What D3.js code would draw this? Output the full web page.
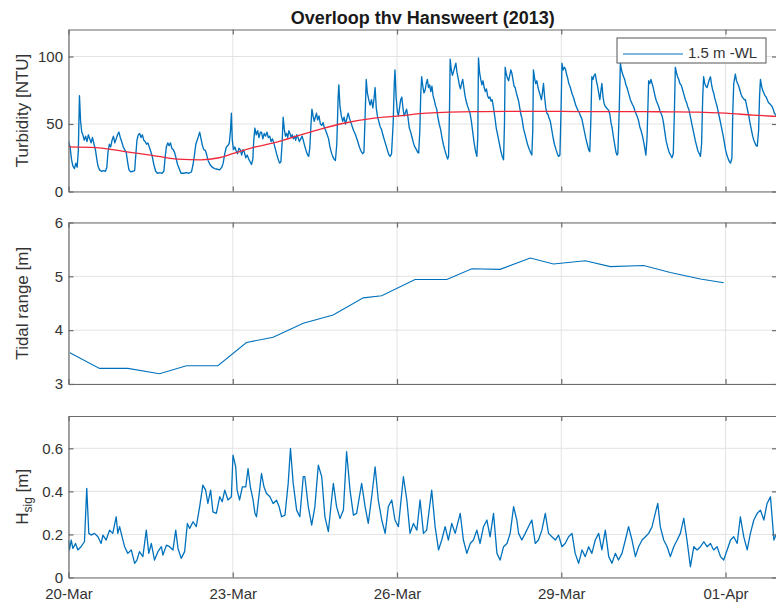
<!DOCTYPE html>
<html>
<head>
<meta charset="utf-8">
<script src="https://cdn.jsdelivr.net/npm/d3@7"></script>
<style>
  body { margin: 0; background: #fff; }
  svg text { font-family: "Liberation Sans", Arial, Helvetica, sans-serif; }
</style>
</head>
<body>
<svg id="chart" width="776" height="602"></svg>
<script>
// Time axis: hours after 20-Mar-2013 00:00 (UTC)
const startDate = Date.UTC(2013, 2, 20);
const spanDays = 12.94;
const dateTicks = ["2013-03-20", "2013-03-23", "2013-03-26", "2013-03-29", "2013-04-01"];

const titleText = "Overloop thv Hansweert (2013)";
const legendLabel = "1.5 m -WL";

const turbidityTicks = [0, 50, 100];
const tidalTicks = [3, 4, 5, 6];
const hsigTicks = [0, 0.2, 0.4, 0.6];

// Turbidity at 1.5 m below water level: [hour, NTU]
const turbidity = [
  [0,37],[0.7,33],[1.3,24],[1.9,19],[2.6,17],[3.2,21],[3.8,18],[4.3,30],[4.8,71],[5.3,52],[5.8,44],[6.3,42],[6.9,38],[7.5,41],[8.1,37],[8.7,42],[9.3,39],[9.9,36],[10.5,40],[11.2,35],[11.8,31],[12.4,24],[12.9,19],[13.6,16],[14.4,15],[15.3,15.5],[16.2,15],[16.8,18],
  [17.3,29],[17.9,35],[18.5,33],[19.1,38],[19.7,41],[20.3,36],[20.9,39],[21.5,42],[22.1,44],[22.7,40],[23.3,37],[24,33],[24.6,31],[25.3,29],[25.9,22],[26.5,16],[27.3,14.5],[28.2,15],[29,15.5],
  [29.5,27],[30,38],[30.6,42],[31.2,43],[31.8,40],[32.4,42],[33,38],[33.6,37],[34.2,35],[34.8,36],[35.4,33],[36,30],[36.7,26],[37.4,20],[38.2,15],[39,13.5],[40,14],[41,13.5],[41.8,15],
  [42.4,26],[42.9,33],[43.5,36],[44.1,34],[44.7,36],[45.3,32],[45.9,31],[46.5,29],[47.1,25],[47.8,20],[48.5,17],[49.3,13.5],[50.5,13.5],[51.7,14],[52.8,13.5],[53.9,14.5],
  [54.6,20],[55.2,27],[55.8,35],[56.4,38],[57,41],[57.5,44],[58.1,39],[58.7,34],[59.3,31],[60,30.5],[60.6,27],[61.2,23],[62,20],[63,18],[64,17],[65.2,16.5],[66.3,16],[67.2,18],[67.8,21],
  [68.5,28],[69.2,33],[69.9,34],[70.5,36],[71,45],[71.4,58],[71.8,38],[72.3,31],[72.9,33],[73.5,30],[74.1,28],[74.7,32],[75.3,31],[75.9,27],[76.5,31],[77.1,29],[77.7,25],[78.3,27],[79,24],[79.6,22],[80.2,20],[80.8,24],
  [81.2,38],[81.7,47],[82.3,42],[82.9,45],[83.5,40],[84.1,44],[84.6,44],[85.2,39],[85.8,43],[86.4,41],[87,44],[87.6,40],[88.2,41],[88.8,37],[89.4,39],[90,36],[90.6,32],[91.2,28],[91.9,24],[92.5,21],[93.1,22],
  [93.6,35],[94.1,55],[94.6,46],[95.1,41],[95.6,43],[96.1,40],[96.6,45],[97.1,43],[97.6,40],[98.1,42],[98.6,39],[99.1,41],[99.6,38],[100.1,42],[100.6,40],[101.2,37],[101.8,39],[102.4,41],[102.9,38],[103.5,34],[104.2,30],[104.8,27],[105.3,26],
  [105.8,33],[106.3,50],[106.7,61],[107.2,56],[107.7,52],[108.2,55],[108.7,58],[109.2,53],[109.8,56],[110.4,50],[111,49],[111.6,51],[112.2,47],[112.8,45],[113.4,42],[114,39],[114.6,33],[115.2,29],[115.8,26],[116.4,24],[117,23],
  [117.6,35],[118.2,70],[118.5,79],[119,63],[119.6,56],[120.2,52],[120.8,55],[121.4,50],[122,54],[122.6,58],[123.2,54],[123.8,51],[124.4,48],[125,45],[125.6,43],[126.2,40],[126.8,37],[127.5,33],[128.2,30],[128.9,28],[129.5,29],
  [130,55],[130.5,83],[131,73],[131.6,68],[132.2,64],[132.8,68],[133.4,62],[134,70],[134.4,77],[134.9,62],[135.4,56],[136,52],[136.6,48],[137.2,46],[137.8,42],[138.5,38],[139.2,34],[139.9,30],[140.5,27],[141,26],[141.6,28],
  [142.3,50],[142.8,80],[143.1,90],[143.6,70],[144.1,60],[144.6,56],[145.1,62],[145.6,68],[146.1,70],[146.6,62],[147.1,56],[147.6,58],[148.2,61],[148.8,55],[149.4,47],[150,44],[150.6,40],[151.2,36],[151.8,33],[152.5,31],[153.1,29],[153.5,28.5],
  [154,45],[154.4,72],[154.8,85],[155.3,78],[155.8,73],[156.3,75],[156.8,80],[157.3,83],[157.8,77],[158.3,79],[158.8,74],[159.3,78],[159.8,71],[160.3,68],[160.8,64],[161.4,61],[161.9,55],[162.5,50],[163.1,46],[163.7,40],[164.3,35],[164.9,31],[165.6,27],[166.2,24],[166.6,26],
  [167,60],[167.3,98],[167.8,90],[168.3,86],[168.8,89],[169.3,92],[169.8,95],[170.3,88],[170.8,84],[171.3,79],[171.8,76],[172.3,80],[172.8,83],[173.3,77],[173.8,71],[174.3,67],[174.8,64],[175.4,61],[176,58],[176.6,52],[177.2,44],[177.8,36],[178.4,30],[179,26],
  [179.4,40],[179.7,99],[180.2,88],[180.7,83],[181.2,79],[181.7,82],[182.2,77],[182.7,74],[183.2,76],[183.7,71],[184.2,69],[184.7,70],[185.2,67],[185.7,68],[186.3,62],[186.9,55],[187.5,47],[188.1,42],[188.8,36],[189.5,30],[190.1,26],[190.7,23.5],
  [191.1,50],[191.4,92],[191.9,87],[192.4,84],[192.9,82],[193.4,86],[193.9,90],[194.3,88],[194.8,83],[195.3,78],[195.8,77],[196.3,73],[196.8,70],[197.3,67],[197.8,62],[198.3,57],[198.8,54],[199.4,47],[200,43],[200.6,39],[201.2,35],[201.8,32],[202.5,29],[203.1,27],
  [203.5,45],[203.8,90],[204.3,84],[204.8,80],[205.3,82],[205.8,77],[206.3,74],[206.8,71],[207.3,68],[207.8,74],[208.2,80],[208.7,70],[209.2,62],[209.7,58],[210.2,57],[210.7,54],[211.2,52],[211.8,46],[212.4,40],[213,35],[213.7,31],[214.3,28],[214.8,26],[215.4,27],
  [215.9,60],[216.3,95],[216.8,90],[217.3,92],[217.8,91],[218.3,87],[218.8,84],[219.3,80],[219.8,78],[220.3,75],[220.8,72],[221.3,70],[221.8,67],[222.3,64],[222.8,62],[223.3,60],[223.8,59],[224.4,56],[225,54],[225.6,49],[226.2,44],[226.8,39],[227.4,35],[228,31],[228.5,29.5],
  [229,55],[229.4,85],[229.9,83],[230.4,86],[230.9,87],[231.4,82],[231.9,78],[232.4,73],[232.9,68],[233.4,75],[233.8,80],[234.3,70],[234.8,65],[235.3,63],[235.8,62],[236.3,61],[236.8,60],[237.3,57],[237.8,51],[238.3,47],[238.9,40],[239.5,34],[240,29],[240.4,27],[240.8,28],
  [241.4,60],[241.9,95],[242.4,90],[242.9,87],[243.3,85],[243.8,83],[244.3,79],[244.8,77],[245.3,74],[245.8,71],[246.3,68],[246.8,66],[247.3,64],[247.7,63],[248.2,60],[248.7,58],[249.2,56],[249.8,53],[250.4,48],[251,45],[251.6,41],[252.2,36],[252.7,31],[253.1,27],
  [253.6,40],[254.3,82],[254.8,80],[255.3,83],[255.8,80],[256.3,77],[256.8,73],[257.2,70],[257.7,67],[258.2,65],[258.7,63],[259.2,60],[259.7,58],[260.2,56],[260.8,51],[261.4,44],[261.9,38],[262.6,33],[263.3,29],[263.9,27],[264.5,25],[265.1,28],
  [265.6,60],[266,92],[266.5,88],[267,85],[267.5,83],[268,80],[268.5,79],[268.9,77],[269.4,74],[269.9,71],[270.4,68],[270.9,66],[271.4,63],[271.9,61],[272.4,57],[273,52],[273.6,47],[274.1,43],[274.7,38],[275.3,34],[275.9,30],[276.5,28],[277,26],
  [277.5,35],[278,70],[278.4,85],[278.9,80],[279.4,78],[279.9,77],[280.4,80],[280.9,83],[281.4,85],[281.9,79],[282.4,75],[282.8,73],[283.3,69],[283.8,66],[284.3,63],[284.8,59],[285.3,55],[285.8,51],[286.4,46],[287,41],[287.5,36],[288,31],[288.6,27],[289.2,24],[289.7,22],[290.2,21],[290.8,25],
  [291.2,60],[291.6,80],[292,84],[292.3,87],[292.8,82],[293.3,80],[293.8,78],[294.3,75],[294.8,72],[295.3,70],[295.8,69],[296.3,68],[296.7,68],[297.2,64],[297.7,60],[298.2,56],[298.7,51],[299.3,46],[299.9,41],[300.4,38],[300.9,36],[301.4,34],[301.9,33.5],
  [302.5,45],[302.9,70],[303.3,83],[303.8,78],[304.3,75],[304.8,73],[305.3,71],[305.8,70],[306.3,68],[306.8,66],[307.4,65],[307.9,64],[308.4,63],[308.9,61],[309.4,58],[310.3,56]
];

// Smoothed turbidity (red trend line): [hour, NTU]
const turbidityTrend = [
  [0,33],[12,32.5],[24,29.8],[36,27],[48,24],[58,23.5],[66,25],[72,28],[82,33],[90,36],[104,43],[119,50],
  [134,54.4],[144,55.8],[157,58],[178,59.2],[192,59.3],[204,59.4],[216,59.3],[228,59.2],[240,59.2],
  [252,59.1],[264,59],[276,58.8],[288,58],[300,56.6],[310.5,55.6]
];

// Tidal range per tide: [hour, m]
const tidalRange = [
  [0.6,3.58],[13.6,3.29],[26,3.29],[39.9,3.19],[51.7,3.34],[65.5,3.34],[78,3.77],[89.7,3.87],
  [102.9,4.13],[116,4.28],[129.2,4.6],[137.3,4.64],[151.9,4.94],[165.8,4.94],[176.8,5.14],[189.2,5.13],
  [202.4,5.34],[212.6,5.23],[226.5,5.29],[237.5,5.18],[252.1,5.2],[263.8,5.07],[277,4.95],[287.2,4.88]
];

// Significant wave height: [hour, m]
const hsig = [
  [0,0.174],[0.4,0.128],[1.2,0.174],[1.9,0.135],[3.1,0.158],[4.1,0.128],[5.5,0.143],[7,0.166],[8,0.414],[8.9,0.205],[9.9,0.197],[11.4,0.205],[12.9,0.189],[14.3,0.158],[15.1,0.197],[16.5,0.174],[18,0.22],[19.4,0.205],[20.9,0.282],[21.6,0.205],[22.4,0.236],[23.5,0.189],
  [24.6,0.143],[26,0.112],[27.5,0.128],[29,0.066],[30,0.081],[31.1,0.12],[32.6,0.097],[34.1,0.22],[35.2,0.112],[36.3,0.158],[37.7,0.081],[39.2,0.12],[40.7,0.143],[41.4,0.104],[42.9,0.15],[44.3,0.143],[45.8,0.128],[47,0.22],
  [48,0.135],[49.4,0.089],[50.9,0.12],[52.1,0.251],[53.1,0.228],[54.6,0.259],[56,0.236],[57.5,0.329],[58.9,0.429],[60.1,0.406],[61.1,0.344],[62.3,0.406],[63.3,0.305],[64.8,0.298],[66.3,0.375],[67.4,0.352],[68.5,0.406],[69.9,0.36],[71.4,0.375],
  [72.1,0.568],[73.3,0.514],[73.9,0.406],[75,0.36],[76.2,0.421],[77.7,0.421],[78.7,0.506],[79.7,0.421],[80.9,0.36],[81.7,0.3],[82.4,0.282],[83.5,0.38],[84.6,0.483],[85.7,0.42],[86.8,0.39],[88.3,0.375],[89.7,0.344],[91.2,0.359],[92.3,0.33],[93.4,0.282],[94.9,0.29],
  [96.3,0.437],[97.3,0.599],[98.5,0.437],[100,0.313],[101.4,0.282],[102.9,0.468],[103.6,0.468],[105.1,0.329],[106.6,0.243],[108,0.329],[109.5,0.522],[111,0.468],[112.4,0.282],[113.9,0.213],[115.3,0.359],[116.1,0.437],[117.5,0.329],[119,0.274],[120.5,0.313],
  [121.9,0.584],[123.4,0.406],[124.9,0.29],[126.3,0.298],[128.5,0.437],[130,0.329],[131.4,0.251],[132.9,0.375],[134.4,0.514],[135.8,0.359],[137.3,0.267],[138.8,0.205],[140.2,0.329],[141.7,0.36],[143.1,0.267],[144.6,0.236],
  [146.8,0.468],[148.3,0.36],[149.7,0.205],[151.2,0.251],[152.7,0.22],[154.1,0.36],[155.6,0.205],[157,0.22],[159.2,0.406],[160.7,0.236],[162.2,0.128],[163.6,0.174],[165.1,0.236],[166.5,0.174],[168,0.251],[169.5,0.205],
  [171.7,0.298],[173.1,0.174],[174.6,0.112],[176.1,0.158],[177.5,0.174],[179,0.22],[180.4,0.158],[181.9,0.236],[183.4,0.267],[184.8,0.189],[186.3,0.298],[187.8,0.112],[189.2,0.081],[190.7,0.143],[192.2,0.158],[193.6,0.205],
  [195.1,0.329],[196.5,0.267],[197.3,0.205],[198.7,0.174],[200.2,0.205],[201.6,0.236],[203.1,0.267],[204.6,0.158],[206,0.174],[207.5,0.22],[209,0.298],[210.4,0.205],[211.9,0.189],[213.4,0.174],[214.8,0.197],[216.3,0.143],
  [217.7,0.158],[219.2,0.189],[220.7,0.205],[222.1,0.112],[223.6,0.066],[225.1,0.128],[226.5,0.097],[228,0.143],[229.4,0.112],[230.9,0.174],[232.4,0.205],[233.8,0.128],[235.3,0.22],[236.8,0.097],[238.2,0.066],[239.7,0.112],
  [241.1,0.081],[242.6,0.112],[244.1,0.174],[245.5,0.236],[247,0.174],[248.5,0.097],[249.9,0.143],[251.4,0.174],[252.9,0.189],[254.3,0.205],[255.8,0.236],[257.2,0.298],[258.3,0.344],[259.4,0.236],[260.9,0.174],[262.4,0.143],
  [263.8,0.097],[265.3,0.143],[266.8,0.174],[268.2,0.205],[269.7,0.275],[271.1,0.174],[272.6,0.05],[274.1,0.143],[275.5,0.128],[277,0.143],[278.5,0.166],[279.9,0.143],[281.4,0.158],[282.8,0.128],[284.3,0.143],[285.8,0.097],
  [287.2,0.081],[288.7,0.128],[290.2,0.174],[291.6,0.189],[293.1,0.158],[294.5,0.282],[296,0.189],[297.5,0.128],[298.9,0.205],[300.4,0.267],[301.9,0.298],[303.3,0.313],[304.8,0.267],[306.2,0.344],[307.7,0.375],[309.2,0.174],[310.4,0.205]
];

const blue = "#0072BD";
const red = "#F0283A";
const axisColor = "#6b6b6b";
const gridColor = "#e3e3e3";
const textColor = "#333333";
const fontFamily = '"Liberation Sans", Arial, Helvetica, sans-serif';

const svg = d3.select("#chart");
const left = 68.5, right = 777;
const hourToDate = h => new Date(startDate + h * 3600e3);
const tickDates = dateTicks.map(s => new Date(s + "T00:00:00Z"));

const x = d3.scaleUtc()
  .domain([new Date(startDate), new Date(startDate + spanDays * 864e5)])
  .range([left, right]);

const panels = [
  { id: "turb", top: 29.5, bottom: 191.5, domain: [0, 120], ticks: turbidityTicks, labels: false },
  { id: "tide", top: 222.5, bottom: 384, domain: [3, 6], ticks: tidalTicks, labels: false },
  { id: "hsig", top: 416, bottom: 577.5, domain: [0, 0.75], ticks: hsigTicks, labels: true }
];

function styleAxis(g) {
  g.attr("font-family", fontFamily).attr("font-size", 15);
  g.select(".domain").attr("stroke", axisColor).attr("stroke-width", 1.2);
  g.selectAll(".tick line").attr("stroke", axisColor).attr("stroke-width", 1.2);
  g.selectAll(".tick text").attr("fill", textColor);
}

panels.forEach(p => {
  const y = d3.scaleLinear().domain(p.domain).range([p.bottom, p.top]);
  p.y = y;
  const g = svg.append("g").attr("class", "panel-" + p.id);

  // grid
  g.append("g").selectAll("line.vg").data(tickDates).join("line")
    .attr("x1", d => x(d)).attr("x2", d => x(d))
    .attr("y1", p.top).attr("y2", p.bottom)
    .attr("stroke", gridColor).attr("stroke-width", 1);
  g.append("g").selectAll("line.hg").data(p.ticks).join("line")
    .attr("x1", left).attr("x2", right)
    .attr("y1", d => y(d)).attr("y2", d => y(d))
    .attr("stroke", gridColor).attr("stroke-width", 1);

  // clip
  svg.append("clipPath").attr("id", "clip-" + p.id)
    .append("rect").attr("x", left).attr("y", p.top)
    .attr("width", right - left).attr("height", p.bottom - p.top);
  p.plot = g.append("g").attr("clip-path", `url(#clip-${p.id})`);

  // axes (ticks pointing inward, box on all four sides)
  const fmt = d3.utcFormat("%d-%b");
  g.append("g").attr("transform", `translate(0,${p.bottom})`)
    .call(d3.axisBottom(x).tickValues(tickDates).tickSizeInner(-5).tickSizeOuter(0)
      .tickPadding(11).tickFormat(p.labels ? fmt : () => ""))
    .call(styleAxis);
  g.append("g").attr("transform", `translate(0,${p.top})`)
    .call(d3.axisTop(x).tickValues(tickDates).tickSizeInner(-5).tickSizeOuter(0).tickFormat(() => ""))
    .call(styleAxis);
  g.append("g").attr("transform", `translate(${left},0)`)
    .call(d3.axisLeft(y).tickValues(p.ticks).tickSizeInner(-5).tickSizeOuter(0)
      .tickPadding(5.5).tickFormat(d => String(d)))
    .call(styleAxis);
  g.append("g").attr("transform", `translate(${right},0)`)
    .call(d3.axisRight(y).tickValues(p.ticks).tickSizeInner(-5).tickSizeOuter(0).tickFormat(() => ""))
    .call(styleAxis);
});

const [pT, pM, pB] = panels;

const lineOf = (p, curve) => d3.line()
  .x(d => x(hourToDate(d[0])))
  .y(d => p.y(d[1]))
  .curve(curve || d3.curveLinear);

pT.plot.append("path").datum(turbidity)
  .attr("d", lineOf(pT)).attr("fill", "none")
  .attr("stroke", blue).attr("stroke-width", 1.35).attr("stroke-linejoin", "round");
pT.plot.append("path").datum(turbidityTrend)
  .attr("d", lineOf(pT, d3.curveMonotoneX)).attr("fill", "none")
  .attr("stroke", red).attr("stroke-width", 1.3);

pM.plot.append("path").datum(tidalRange)
  .attr("d", lineOf(pM)).attr("fill", "none")
  .attr("stroke", blue).attr("stroke-width", 1.1);

pB.plot.append("path").datum(hsig)
  .attr("d", lineOf(pB)).attr("fill", "none")
  .attr("stroke", blue).attr("stroke-width", 1.3).attr("stroke-linejoin", "round");

// y-axis labels
const yLabel = (p) => svg.append("text")
  .attr("transform", `translate(28,${(p.top + p.bottom) / 2}) rotate(-90)`)
  .attr("text-anchor", "middle")
  .attr("font-family", fontFamily).attr("font-size", 17)
  .attr("fill", textColor);

yLabel(pT).text("Turbidity [NTU]");
yLabel(pM).text("Tidal range [m]");
const hl = yLabel(pB);
hl.append("tspan").text("H");
hl.append("tspan").attr("font-size", 12).attr("dy", 4).text("sig");
hl.append("tspan").attr("dy", -4).text(" [m]");

// title
svg.append("text")
  .attr("x", (left + right) / 2).attr("y", 24)
  .attr("text-anchor", "middle")
  .attr("font-family", fontFamily).attr("font-size", 18).attr("font-weight", "bold")
  .attr("fill", "#1a1a1a")
  .text(titleText);

// legend
const lg = svg.append("g").attr("class", "legend");
lg.append("rect").attr("x", 617).attr("y", 38).attr("width", 149).attr("height", 25)
  .attr("fill", "#fff").attr("stroke", "#555").attr("stroke-width", 1);
lg.append("line").attr("x1", 623).attr("x2", 683).attr("y1", 54).attr("y2", 54)
  .attr("stroke", blue).attr("stroke-width", 1.1);
lg.append("text").attr("x", 688).attr("y", 58)
  .attr("font-family", fontFamily).attr("font-size", 15).attr("fill", textColor)
  .text(legendLabel);
</script>
</body>
</html>
